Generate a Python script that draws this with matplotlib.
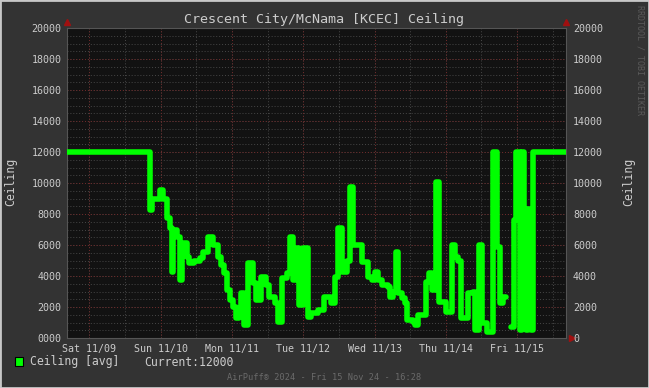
import matplotlib.pyplot as plt
from matplotlib.patches import Rectangle
import numpy as np

# hours since Sat 11/09 00:00, value from that hour on (step data)
hours = [-7.53, 20.33, 21.0, 23.7, 24.7, 26.05, 27.06, 27.73, 28.06, 29.41,
         30.42, 31.09, 32.77, 33.44, 35.12, 37.14, 38.15, 39.83, 41.51, 43.19,
         44.2, 45.2, 46.21, 47.22, 48.23, 49.24, 50.25, 50.92, 51.93, 53.27,
         54.95, 55.96, 57.64, 59.32, 60.33, 62.35, 63.35, 64.7, 66.38, 67.39,
         68.4, 69.4, 70.41, 72.09, 73.44, 74.78, 77.13, 79.15, 81.5, 82.85,
         83.86, 85.2, 86.88, 87.89, 88.9, 91.92, 93.94, 95.28, 96.29, 97.3,
         98.64, 100.66, 101.33, 102.34, 103.35, 104.02, 105.37, 106.37, 107.05, 109.06,
         109.74, 110.74, 113.43, 114.44, 115.45, 116.79, 117.8, 120.16, 122.17, 123.18,
         124.19, 125.2, 127.55, 129.23, 129.9, 131.25, 132.26, 133.94, 135.95, 137.3,
         138.31, 139.31, 140.32, 142.0, 143.01, 143.68, 145.03, 145.7, 146.37, 147.04,
         147.71, 148.72, 149.4, 160.47]
ceiling = [12000, 8250, 9000, 9550, 9000, 7750, 7100, 4250, 7000, 6500,
           3750, 6100, 5200, 4850, 5000, 5150, 5550, 6500, 6000, 5200,
           4700, 4200, 3100, 2450, 2000, 1300, 1700, 2900, 850, 4850,
           3550, 2450, 3950, 3400, 2650, 2250, 1050, 3900, 4200, 6500,
           3750, 5800, 2100, 5800, 1350, 1600, 1800, 2650, 2250, 3950,
           7100, 4250, 5000, 9750, 6000, 4900, 3950, 3750, 4250, 3750,
           3400, 3300, 2650, 3000, 5550, 2900, 2600, 2250, 1150, 1050,
           850, 1500, 3600, 4200, 3100, 10050, 2300, 1650, 6000, 5200,
           5000, 1300, 2900, 3000, 500, 6000, 950, 400, 12000, 5900,
           2250, 2650, np.nan, 700, 7600, 12000, 500, 12000, 8300, 500,
           8300, 500, 12000, 12000]

day_ticks = [0, 24, 48, 72, 96, 120, 144]
day_labels = ["Sat 11/09", "Sun 11/10", "Mon 11/11", "Tue 11/12",
              "Wed 11/13", "Thu 11/14", "Fri 11/15"]
y_ticks = [0, 2000, 4000, 6000, 8000, 10000, 12000, 14000, 16000, 18000, 20000]
left_labels = ["0000", "2000", "4000", "6000", "8000", "10000", "12000",
               "14000", "16000", "18000", "20000"]
right_labels = ["0", "2000", "4000", "6000", "8000", "10000", "12000",
                "14000", "16000", "18000", "20000"]

mono = "DejaVu Sans Mono"
txt = "#cccccc"

fig = plt.figure(figsize=(6.49, 3.88), dpi=100, facecolor="#333333")
ax = fig.add_axes([67/649, 1-338/388, 499/649, 310/388], facecolor="#121212")

# grid
for y in np.arange(500, 20000, 500):
    ax.axhline(y, color="#474747", lw=0.7, ls=(0, (1, 2)), zorder=1)
for y in y_ticks[1:]:
    ax.axhline(y, color="#702828", lw=0.7, ls=(0, (1, 2)), zorder=1)
for h in np.arange(-12, 168, 12):
    ax.axvline(h, color="#474747", lw=0.7, ls=(0, (1, 2)), zorder=1)
for h in day_ticks:
    ax.axvline(h, color="#702828", lw=0.7, ls=(0, (1, 2)), zorder=1)

ax.plot(hours, ceiling, drawstyle="steps-post", color="#00ff00", lw=4.0,
        solid_joinstyle="round", solid_capstyle="round", zorder=3)

ax.set_xlim(-7.53, 160.47)
ax.set_ylim(0, 20000)
ax.set_xticks(day_ticks)
ax.set_xticklabels(day_labels, fontfamily=mono, fontsize=7.2, color=txt)
ax.set_yticks(y_ticks)
ax.set_yticklabels(left_labels, fontfamily=mono, fontsize=7.2, color=txt)
ax.tick_params(length=0, pad=4)
for s in ax.spines.values():
    s.set_color("#555555")
    s.set_linewidth(0.8)

ax2 = ax.twinx()
ax2.set_ylim(0, 20000)
ax2.set_yticks(y_ticks)
ax2.set_yticklabels(right_labels, fontfamily=mono, fontsize=7.2, color=txt)
ax2.tick_params(length=0, pad=5)
for s in ax2.spines.values():
    s.set_visible(False)

# little red arrows at the axis ends
ax.plot([0, 1], [1.02, 1.02], transform=ax.transAxes, ls="none", marker="^",
        ms=4, color="#a01010", clip_on=False, zorder=5)
ax.plot([1.012], [0], transform=ax.transAxes, ls="none", marker=">",
        ms=4, color="#a01010", clip_on=False, zorder=5)

fig.text(0.5, 1-19/388, "Crescent City/McNama [KCEC] Ceiling", ha="center",
         va="center", fontfamily=mono, fontsize=9.6, color=txt)
fig.text(11/649, 1-182/388, "Ceiling", rotation=90, ha="center", va="center",
         fontfamily=mono, fontsize=8.3, color=txt)
fig.text(629/649, 1-182/388, "Ceiling", rotation=90, ha="center", va="center",
         fontfamily=mono, fontsize=8.3, color=txt)
fig.text(640/649, 1-5/388, "RRDTOOL / TOBI OETIKER", rotation=270, ha="center",
         va="top", fontfamily=mono, fontsize=6, color="#5a5a5a")

# legend
fig.add_artist(Rectangle((15/649, 1-366/388), 8/649, 9/388, transform=fig.transFigure,
                         facecolor="#00ff00", edgecolor="black", lw=0.8))
fig.text(30/649, 1-362/388, "Ceiling [avg]", ha="left", va="center",
         fontfamily=mono, fontsize=8.3, color=txt)
fig.text(144/649, 1-362/388, "Current:12000", ha="left", va="center",
         fontfamily=mono, fontsize=8.3, color=txt)
fig.text(0.5, 1-377/388, "AirPuff\u00ae 2024 - Fri 15 Nov 24 - 16:28", ha="center",
         va="center", fontfamily=mono, fontsize=6.2, color="#6a6a6a")

# outer frame
fig.add_artist(Rectangle((0, 0), 1, 1, transform=fig.transFigure, fill=False,
                         edgecolor="#c8c8c8", lw=2))

fig.savefig("out.png", dpi=100, facecolor=fig.get_facecolor())
